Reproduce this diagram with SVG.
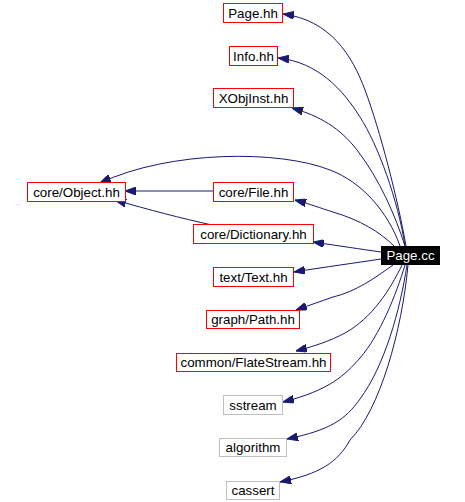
<svg xmlns="http://www.w3.org/2000/svg" width="465" height="502" viewBox="0 0 465 502">
<style>
.n rect{fill:#fff;stroke:#ff0000;stroke-width:1}
.g rect{fill:#fff;stroke:#bfbfbf;stroke-width:1}
text{font-family:"Liberation Sans",Arial,sans-serif;font-size:13.33px;text-anchor:middle;fill:#000}
.e path{fill:none;stroke:#191970;stroke-width:1}
</style>
<defs>
<marker id="a" markerUnits="userSpaceOnUse" viewBox="0 0 11 8" refX="11" refY="4" markerWidth="11" markerHeight="8" orient="auto">
<path d="M0,0 L11,4 L0,8 z" fill="#191970" stroke="#191970"/>
</marker>
</defs>
<rect width="465" height="502" fill="#fff"/>
<g class="e" id="edges" marker-end="url(#a)">
<path marker-end="url(#a)" d="M406,246 C398,200 380,130 365,90 C352,55 330,20 283,14"/>
<path marker-end="url(#a)" d="M405,246 C398,200 378,145 360,117 C343,90 318,62 278,58"/>
<path marker-end="url(#a)" d="M405,246 C395,215 380,180 357,150 C340,128 320,116 292,108"/>
<path marker-end="url(#a)" d="M400,246 C388,212 362,182 330,170 C280,150 170,150 100,183"/>
<path marker-end="url(#a)" d="M213,191 L125,191"/>
<path marker-end="url(#a)" d="M394,246 C380,232 360,220 333,212 C320,208 310,204 295,200"/>
<path marker-end="url(#a)" d="M212,225 C180,218 150,210 115,200"/>
<path marker-end="url(#a)" d="M381,252 C360,249 340,246 313,242"/>
<path marker-end="url(#a)" d="M381,259 C355,263 325,267 294,272"/>
<path marker-end="url(#a)" d="M393,265 C375,278 355,292 333,297 C322,301 310,305 296,310"/>
<path marker-end="url(#a)" d="M402,265 C390,290 372,318 345,333 C330,341 315,346 296,351"/>
<path marker-end="url(#a)" d="M405,265 C396,295 380,335 360,358 C345,375 330,390 283,402"/>
<path marker-end="url(#a)" d="M407,265 C400,310 385,365 360,399 C345,420 330,430 287,439"/>
<path marker-end="url(#a)" d="M408,265 C402,330 380,410 350,440 C338,462 320,474 280,482"/>
</g>
<g id="page_hh" class="n"><rect x="223.5" y="3.5" width="59" height="19"/><text x="253" y="17.5">Page.hh</text></g>
<g id="info_hh" class="n"><rect x="229.5" y="46.5" width="48" height="19"/><text x="253.5" y="60.5">Info.hh</text></g>
<g id="xobjinst_hh" class="n"><rect x="213.5" y="88.5" width="80" height="19"/><text x="253.5" y="102.5">XObjInst.hh</text></g>
<g id="object_hh" class="n"><rect x="27.5" y="182.5" width="98" height="19"/><text x="76.5" y="196.5">core/Object.hh</text></g>
<g id="file_hh" class="n"><rect x="213.5" y="182.5" width="80" height="19"/><text x="253.5" y="196.5">core/File.hh</text></g>
<g id="dictionary_hh" class="n"><rect x="193.5" y="224.5" width="120" height="19"/><text x="253.5" y="238.5">core/Dictionary.hh</text></g>
<g id="page_cc"><rect x="381" y="246" width="59" height="19" fill="#000"/><text x="410.5" y="260" fill="#fff" style="fill:#fff">Page.cc</text></g>
<g id="text_hh" class="n"><rect x="213.5" y="267.5" width="80" height="19"/><text x="253.5" y="281.5">text/Text.hh</text></g>
<g id="path_hh" class="n"><rect x="206.5" y="310.5" width="93" height="18"/><text x="253" y="324">graph/Path.hh</text></g>
<g id="flatestream_hh" class="n"><rect x="176.5" y="353.5" width="154" height="18"/><text x="253.5" y="367">common/FlateStream.hh</text></g>
<g id="sstream" class="g"><rect x="223.5" y="395.5" width="59" height="19"/><text x="253" y="409.5">sstream</text></g>
<g id="algorithm" class="g"><rect x="219.5" y="438.5" width="67" height="18"/><text x="253" y="452">algorithm</text></g>
<g id="cassert" class="g"><rect x="226.5" y="481.5" width="53" height="18"/><text x="253" y="495">cassert</text></g>
</svg>
